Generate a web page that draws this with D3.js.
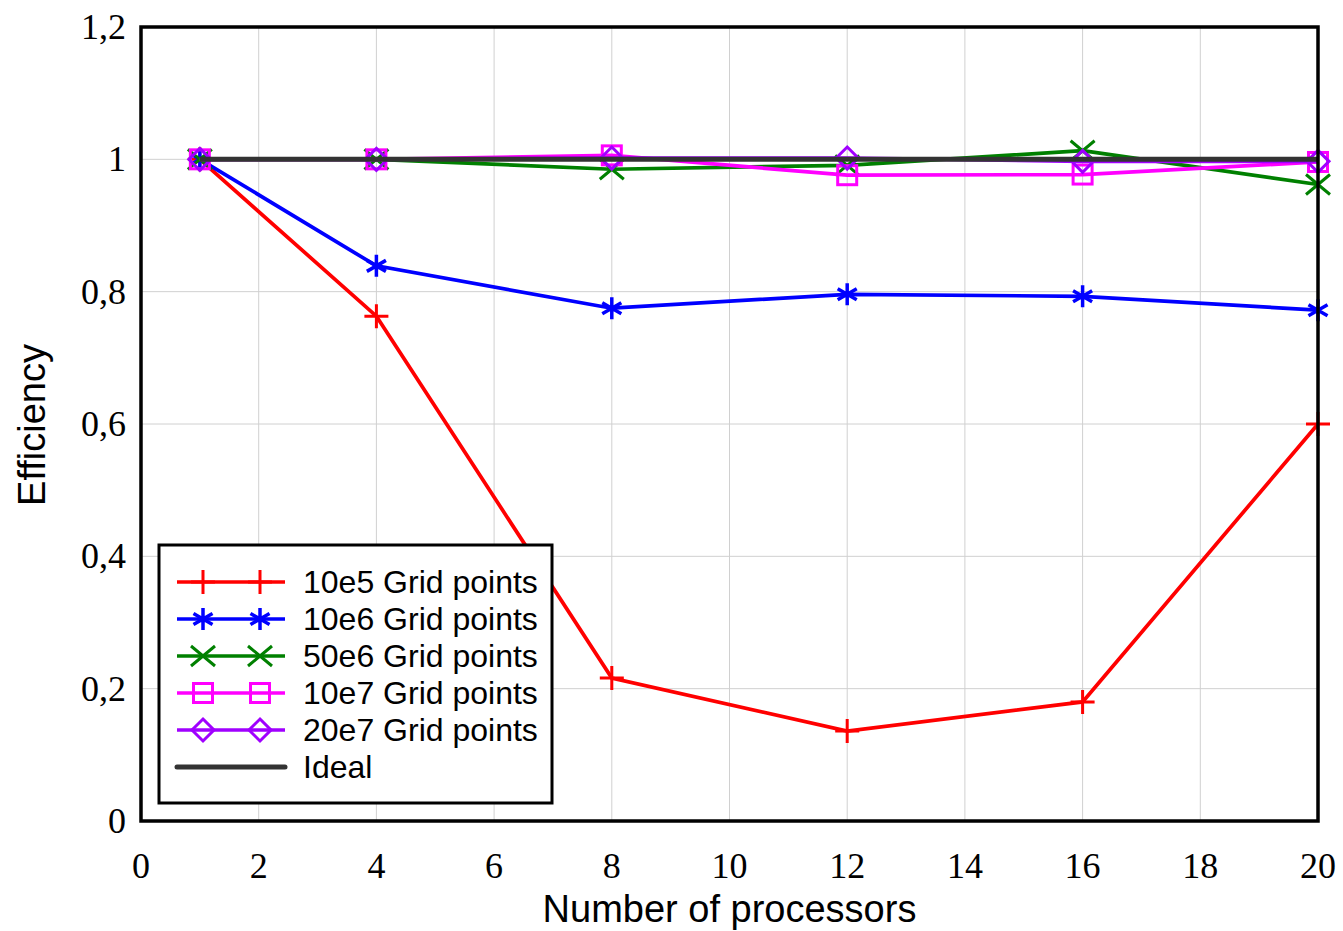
<!DOCTYPE html>
<html><head><meta charset="utf-8">
<script src="https://cdn.jsdelivr.net/npm/d3@7"></script>
<style>body{margin:0;background:#fff}svg{display:block}</style>
</head><body>
<svg id="c" width="1343" height="931"></svg>
<script>
const processors = [1, 4, 8, 12, 16, 20];
const eff10e5 = [1, 0.763, 0.216, 0.136, 0.180, 0.600];
const eff10e6 = [1, 0.839, 0.775, 0.796, 0.793, 0.772];
const eff50e6 = [1, 1.0, 0.985, 0.991, 1.013, 0.962];
const eff10e7 = [1, 1.0, 1.006, 0.976, 0.977, 0.996];
const eff20e7 = [1, 1.0, 1.002, 1.002, 0.997, 0.997];
const effIdeal = [1, 1, 1, 1, 1, 1];
const xTicks = [0, 2, 4, 6, 8, 10, 12, 14, 16, 18, 20];
const yTicks = [0, 0.2, 0.4, 0.6, 0.8, 1, 1.2];
const seriesNames = ["10e5 Grid points", "10e6 Grid points", "50e6 Grid points", "10e7 Grid points", "20e7 Grid points", "Ideal"];

const series = [
  {name: seriesNames[0], vals: eff10e5, color: "#ff0000", marker: "plus"},
  {name: seriesNames[1], vals: eff10e6, color: "#0000ff", marker: "star"},
  {name: seriesNames[2], vals: eff50e6, color: "#008000", marker: "cross"},
  {name: seriesNames[3], vals: eff10e7, color: "#ff00ff", marker: "square"},
  {name: seriesNames[4], vals: eff20e7, color: "#a000ff", marker: "diamond"},
  {name: seriesNames[5], vals: effIdeal, color: "#333333", marker: null}
];

const svg = d3.select("#c");
const L = 141, R = 1318, T = 27, B = 821;
const x = d3.scaleLinear().domain([0, 20]).range([L, R]);
const y = d3.scaleLinear().domain([0, 1.2]).range([B, T]);

// grid
const g = svg.append("g");
g.selectAll(".vg").data(xTicks).enter().append("line")
  .attr("x1", d => x(d)).attr("x2", d => x(d)).attr("y1", T).attr("y2", B)
  .attr("stroke", "#d0d0d0").attr("stroke-width", 1);
g.selectAll(".hg").data(yTicks).enter().append("line")
  .attr("y1", d => y(d)).attr("y2", d => y(d)).attr("x1", L).attr("x2", R)
  .attr("stroke", "#d0d0d0").attr("stroke-width", 1);

// tick labels
const fmt = d => String(+d.toFixed(1)).replace(".", ",");
svg.append("g").selectAll("text").data(xTicks).enter().append("text")
  .attr("x", d => x(d)).attr("y", 878).attr("text-anchor", "middle")
  .attr("font-family", "'Liberation Serif', 'Times New Roman', serif").attr("font-size", 36)
  .text(d => d);
svg.append("g").selectAll("text").data(yTicks).enter().append("text")
  .attr("x", 126).attr("y", d => y(d) + 12).attr("text-anchor", "end")
  .attr("font-family", "'Liberation Serif', 'Times New Roman', serif").attr("font-size", 36)
  .text(fmt);

// axis titles
svg.append("text").attr("x", (L + R) / 2).attr("y", 922).attr("text-anchor", "middle")
  .attr("font-family", "'Liberation Sans', Arial, sans-serif").attr("font-size", 38)
  .text("Number of processors");
svg.append("text").attr("transform", `translate(45,${(T + B) / 2 + 1}) rotate(-90)`).attr("text-anchor", "middle")
  .attr("font-family", "'Liberation Sans', Arial, sans-serif").attr("font-size", 38)
  .text("Efficiency");

function drawMarker(sel, type, color) {
  const s = sel.append("g");
  const sw = 3;
  if (type === "plus") {
    s.append("path").attr("d", "M-12,0H12M0,-12V12").attr("stroke", color).attr("stroke-width", sw).attr("fill", "none");
  } else if (type === "star") {
    const r = 11;
    let d = "";
    for (let a = 0; a < 3; a++) {
      const ang = Math.PI / 2 + a * Math.PI / 3;
      d += `M${r * Math.cos(ang)},${-r * Math.sin(ang)}L${-r * Math.cos(ang)},${r * Math.sin(ang)}`;
    }
    s.append("path").attr("d", d).attr("stroke", color).attr("stroke-width", sw + 0.5).attr("fill", "none");
  } else if (type === "cross") {
    s.append("path").attr("d", "M-12,-10L12,10M-12,10L12,-10").attr("stroke", color).attr("stroke-width", sw).attr("fill", "none");
  } else if (type === "square") {
    s.append("rect").attr("x", -9.5).attr("y", -9.5).attr("width", 19).attr("height", 19).attr("stroke", color).attr("stroke-width", sw).attr("fill", "none");
  } else if (type === "diamond") {
    s.append("path").attr("d", "M0,-11L11,0L0,11L-11,0Z").attr("stroke", color).attr("stroke-width", sw).attr("fill", "none");
  }
  return s;
}

const line = d3.line().x((d, i) => x(processors[i])).y(d => y(d));
series.forEach(sr => {
  const gg = svg.append("g");
  gg.append("path").datum(sr.vals).attr("d", line).attr("fill", "none")
    .attr("stroke", sr.color).attr("stroke-width", sr.marker ? 3.7 : 5);
  if (sr.marker) {
    sr.vals.forEach((v, i) => {
      drawMarker(gg, sr.marker, sr.color).attr("transform", `translate(${x(processors[i])},${y(v)})`);
    });
  }
});

// frame
svg.append("rect").attr("x", L).attr("y", T).attr("width", R - L).attr("height", B - T)
  .attr("fill", "none").attr("stroke", "#000").attr("stroke-width", 3.5);

// legend
const lg = svg.append("g");
lg.append("rect").attr("x", 159).attr("y", 545).attr("width", 393).attr("height", 258)
  .attr("fill", "#fff").attr("stroke", "#000").attr("stroke-width", 3);
series.forEach((sr, i) => {
  const cy = 582 + i * 37;
  lg.append("line").attr("x1", 177).attr("x2", 285).attr("y1", cy).attr("y2", cy)
    .attr("stroke", sr.color).attr("stroke-width", sr.marker ? 3.5 : 5).attr("stroke-linecap", sr.marker ? "butt" : "round");
  if (sr.marker) {
    drawMarker(lg, sr.marker, sr.color).attr("transform", `translate(203,${cy})`);
    drawMarker(lg, sr.marker, sr.color).attr("transform", `translate(260,${cy})`);
  }
  lg.append("text").attr("x", 303).attr("y", cy + 11)
    .attr("font-family", "'Liberation Sans', Arial, sans-serif").attr("font-size", 32)
    .text(sr.name);
});
</script>
</body></html>
